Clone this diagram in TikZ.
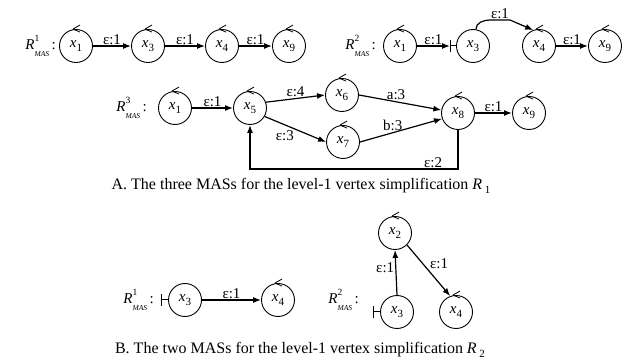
\documentclass[tikz,border=0pt]{standalone}
\usepackage{fontspec}
\setmainfont{Liberation Serif}
\usetikzlibrary{arrows.meta}
\newcommand{\xv}[1]{\textit{x}\raisebox{-0.5ex}{\fontsize{11}{11}\selectfont #1}}
\newcommand{\Rmas}[1]{\textit{R}\rlap{\raisebox{1.1ex}{\fontsize{9.5}{9.5}\selectfont #1}}\raisebox{-1.0ex}{\fontsize{7.5}{7.5}\selectfont\itshape MAS}\,:}
\tikzset{
  st/.style={circle, draw, line width=0.9pt, minimum size=33pt, inner sep=0pt, font=\fontsize{15}{15}\selectfont},
  ed/.style={-{Latex[length=8pt,width=6pt]}, line width=1.2pt},
  lbl/.style={font=\fontsize{15}{15}\selectfont, inner sep=1pt},
  captxt/.style={font=\fontsize{16}{16}\selectfont, inner sep=1pt},
  mk/.style={line width=0.8pt},
  barl/.style={line width=1pt}
}
\newcommand{\loopmark}[1]{\draw[mk] ([xshift=-3pt]#1.north) -- ++(7pt,4pt) ([xshift=-3pt]#1.north) -- ++(7pt,-3pt);}
\begin{document}
\begin{tikzpicture}[x=1pt,y=1pt]
\useasboundingbox (0,0) rectangle (625,362);
% ---- A, R^1
\node[lbl, anchor=east] (aL1) at (57,316) {\Rmas{1}};
\node[st] (a1x1) at (76,316) {\xv{1}};
\node[st] (a1x3) at (148,316) {\xv{3}};
\node[st] (a1x4) at (222,316) {\xv{4}};
\node[st] (a1x9) at (289,316) {\xv{9}};
\draw[ed] (a1x1) -- node[lbl, above] {ε:1} (a1x3);
\draw[ed] (a1x3) -- node[lbl, above] {ε:1} (a1x4);
\draw[ed] (a1x4) -- node[lbl, above] {ε:1} (a1x9);
\foreach \n in {a1x1,a1x3,a1x4,a1x9} {\loopmark{\n}}
% ---- A, R^2
\node[lbl, anchor=east] (aL2) at (377,316) {\Rmas{2}};
\node[st] (a2x1) at (400,316) {\xv{1}};
\node[st] (a2x3) at (473,316) {\xv{3}};
\node[st] (a2x4) at (539,316) {\xv{4}};
\node[st] (a2x9) at (605,316) {\xv{9}};
\coordinate (a2b) at (450,316);
\draw[barl] ([yshift=-6pt]a2b) -- ([yshift=6pt]a2b);
\draw[barl] (a2b) -- (a2x3.west);
\draw[ed] (a2x1) -- node[lbl, above] {ε:1} (a2b);
\coordinate (a2p) at (490,342);
\coordinate (a2q) at (510,342);
\draw[ed] (a2x3.80) to[out=90,in=180] (a2p) -- node[lbl, above] {ε:1} (a2q) -- (a2x4.110);
\draw[ed] (a2x4) -- node[lbl, above] {ε:1} (a2x9);
\foreach \n in {a2x1,a2x4,a2x9} {\loopmark{\n}}
% ---- A, R^3
\node[lbl, anchor=east] (aL3) at (148,254) {\Rmas{3}};
\node[st] (a3x1) at (175,254) {\xv{1}};
\node[st] (a3x5) at (250,254) {\xv{5}};
\node[st] (a3x6) at (342,267) {\xv{6}};
\node[st] (a3x7) at (343,220) {\xv{7}};
\node[st] (a3x8) at (458,249) {\xv{8}};
\node[st] (a3x9) at (529,249) {\xv{9}};
\draw[ed] (a3x1) -- node[lbl, above] {ε:1} (a3x5);
\draw[ed] (a3x5.20) -- node[lbl, above] {ε:4} (a3x6.west);
\draw[ed] (a3x5.-30) -- node[lbl, below left] {ε:3} (a3x7.west);
\draw[ed] (a3x6.east) -- node[lbl, above, pos=0.45] {a:3} (a3x8.170);
\draw[ed] (a3x7.east) -- node[lbl, above, pos=0.4] {b:3} (a3x8.200);
\draw[ed] (a3x8) -- node[lbl, above] {ε:1} (a3x9);
\coordinate (lb) at (0,193);
\draw[ed] (a3x8.south) -- (a3x8.south |- lb) -- node[lbl, above, pos=0.12] {ε:2} (a3x5.south |- lb) -- (a3x5.south);
\foreach \n in {a3x1,a3x5,a3x6,a3x7,a3x8,a3x9} {\loopmark{\n}}
\node[captxt] (capA) at (301,176) {A. The three MASs for the level-1 vertex simplification \textit{R}\,\raisebox{-0.5ex}{\fontsize{11}{11}\selectfont 1}};
% ---- B, R^1
\node[lbl, anchor=east] (bL1) at (155,62) {\Rmas{1}};
\node[st] (b1x3) at (185,62) {\xv{3}};
\node[st] (b1x4) at (278,62) {\xv{4}};
\coordinate (b1b) at (161,62);
\draw[barl] ([yshift=-6pt]b1b) -- ([yshift=6pt]b1b);
\draw[barl] (b1b) -- (b1x3.west);
\draw[ed] (b1x3) -- node[lbl, above] {ε:1} (b1x4);
\loopmark{b1x4}
% ---- B, R^2
\node[lbl, anchor=east] (bL2) at (360,62) {\Rmas{2}};
\node[st] (b2x2) at (395,129) {\xv{2}};
\node[st] (b2x3) at (397,50) {\xv{3}};
\node[st] (b2x4) at (456,50) {\xv{4}};
\coordinate (b2b) at (373,50);
\draw[barl] ([yshift=-6pt]b2b) -- ([yshift=6pt]b2b);
\draw[barl] (b2b) -- (b2x3.west);
\draw[ed] (b2x3.north) -- node[lbl, left, pos=0.6] {ε:1} (b2x2.south);
\draw[ed] (b2x2.-45) -- node[lbl, above right] {ε:1} (b2x4.110);
\foreach \n in {b2x2,b2x4} {\loopmark{\n}}
\node[captxt] (capB) at (300,12) {B. The two MASs for the level-1 vertex simplification \textit{R}\,\raisebox{-0.5ex}{\fontsize{11}{11}\selectfont 2}};
\end{tikzpicture}
\end{document}
